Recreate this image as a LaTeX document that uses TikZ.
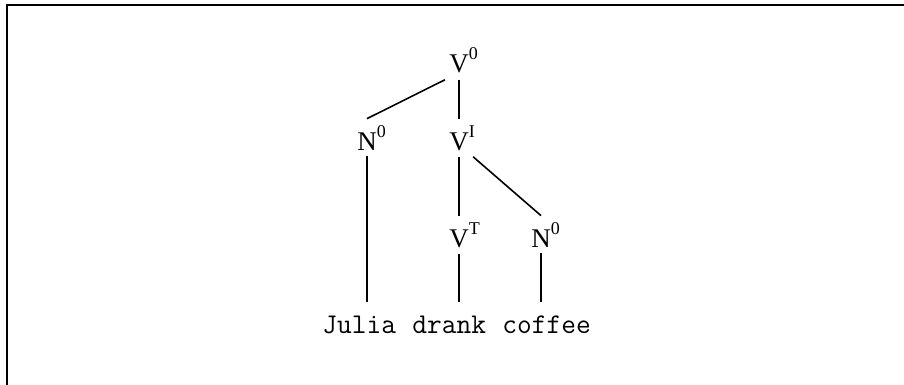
\documentclass[tikz,border=0pt]{standalone}
\usepackage{fontspec}
\setmainfont{Liberation Serif}

% category with its bar level, the level kept out of the node width
\newcommand{\catsup}[2]{#1\rlap{\raisebox{6.5pt}{\fontsize{9}{10}\selectfont #2}}}

\begin{document}
\begin{tikzpicture}[x=0.5pt,y=-0.5pt]
\tikzstyle{every node}+=[inner xsep=2pt, inner ysep=3pt]
\tikzstyle{cat}=[font=\fontsize{13.5}{15}\selectfont, anchor=base]
\tikzstyle{word}=[font=\fontsize{14.3}{16}\selectfont\ttfamily, anchor=base west, inner sep=0pt, outer ysep=6.75pt]
\tikzstyle{branch}=[black, line width=0.8pt]
\useasboundingbox (0,0) rectangle (904,385);
\draw [black, line width=1pt] (7,385) -- (7,5) -- (904,5);
% categories
\node [cat] (v0) at (459,73) {\catsup{V}{0}};
\node [cat] (n0a) at (367,150) {\catsup{N}{0}};
\node [cat] (vi) at (459,150) {\catsup{V}{I}};
\node [cat] (vt) at (459,247) {\catsup{V}{T}};
\node [cat] (n0b) at (541,247) {\catsup{N}{0}};
% words
\node [word] (julia) at (322,333) {Julia};
\node [word] (drank) at (412,333) {drank};
\node [word] (coffee) at (502,333) {coffee};
% branches
\draw [branch] (v0.south west) -- (n0a.north);
\draw [branch] (v0) -- (vi);
\draw [branch] (vi.south east) -- (n0b.north);
\draw [branch] (vi) -- (vt);
\draw [branch] (n0a) -- (n0a |- julia.north);
\draw [branch] (vt) -- (vt |- drank.north);
\draw [branch] (n0b) -- (n0b |- coffee.north);
\end{tikzpicture}
\end{document}
